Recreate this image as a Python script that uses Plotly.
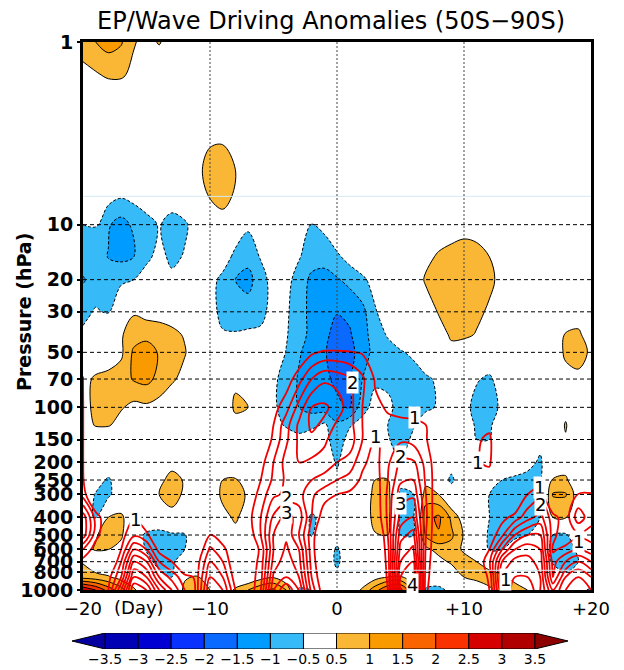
import math
import plotly.graph_objects as go

# ---------------- data ----------------
DAYS = list(range(-20, 21))
PRESSURE = [1, 1.5, 2, 3, 5, 7, 10, 15, 20, 30, 40, 50, 70, 100, 125, 150,
            200, 250, 300, 400, 500, 600, 700, 850, 1000]

# EP-flux / wave-driving anomaly (shaded), sparse "day:value" per level
ANOMALY_ROWS = {
    1: "-20:0.9 -19:1.0 -18:1.2 -17:1.05 -16:0.55 -15:0.3 -14:0.55 -13:0.2",
    1.5: "-20:0.25 -19:0.45 -18:0.6 -17:0.6 -16:0.35 -15:0.1",
    2: "-18:0.1 -17:0.1",
    3: "-10:0.25 -9:0.25",
    5: "-11:0.3 -10:0.8 -9:0.9 -8:0.5 -7:0.1",
    7: "-19:-0.1 -18:-0.3 -17:-0.45 -16:-0.35 -15:-0.1 -13:-0.15 -11:0.1 -10:0.55 -9:0.75 -8:0.4 -2:-0.2",
    10: "-20:-0.5 -19:-0.45 -18:-0.95 -17:-1.2 -16:-0.9 -15:-0.75 -14:-0.45 -13:-0.75 -12:-0.6 -11:-0.2 -9:0.2 -8:-0.1 -7:-0.4 -6:-0.1 -3:-0.3 -2:-0.52 -1:-0.35 9:0.2 10:0.3 11:0.25",
    15: "-20:-0.7 -19:-0.85 -18:-1.02 -17:-1.1 -16:-1.0 -15:-0.65 -14:-0.3 -13:-0.65 -12:-0.45 -9:-0.2 -8:-0.65 -7:-0.85 -6:-0.45 -5:-0.2 -4:-0.1 -3:-0.45 -2:-0.8 -1:-0.85 0:-0.6 1:-0.3 2:-0.1 7:0.3 8:0.6 9:0.7 10:0.75 11:0.7 12:0.5 13:0.1",
    20: "-20:-1.05 -19:-0.8 -18:-0.75 -17:-0.65 -16:-0.5 -15:-0.2 -13:-0.35 -10:-0.3 -9:-0.65 -8:-1.0 -7:-1.15 -6:-0.75 -5:-0.25 -4:-0.3 -3:-0.75 -2:-1.1 -1:-1.15 0:-1.05 1:-0.85 2:-0.6 3:-0.3 7:0.6 8:0.75 9:0.8 10:0.85 11:0.8 12:0.65 13:0.3",
    30: "-20:-0.65 -19:-0.45 -18:-0.55 -17:0.2 -16:0.45 -15:0.3 -14:0.25 -13:0.2 -10:-0.3 -9:-0.65 -8:-0.8 -7:-0.8 -6:-0.65 -5:-0.3 -4:-0.4 -3:-0.85 -2:-1.1 -1:-1.3 0:-1.48 1:-1.4 2:-1.15 3:-0.55 4:-0.2 7:0.1 8:0.55 9:0.75 10:0.8 11:0.65 12:0.4 19:0.2",
    40: "-20:-0.4 -18:0.1 -17:0.45 -16:0.75 -15:0.85 -14:0.8 -13:0.65 -12:0.45 -11:0.1 -10:-0.2 -9:-0.45 -8:-0.45 -7:-0.4 -6:-0.4 -5:-0.3 -4:-0.45 -3:-0.85 -2:-1.1 -1:-1.4 0:-1.65 1:-1.55 2:-1.2 3:-0.75 4:-0.45 5:-0.2 8:0.2 9:0.6 10:0.65 11:0.45 12:0.1 17:0.1 18:0.55 19:0.6 20:0.2",
    50: "-18:0.1 -17:0.4 -16:1.1 -15:1.25 -14:0.95 -13:0.7 -12:0.55 -11:0.1 -5:-0.15 -4:-0.52 -3:-0.95 -2:-1.2 -1:-1.45 0:-1.75 1:-1.7 2:-1.2 3:-0.85 4:-0.7 5:-0.55 6:-0.4 9:0.3 17:0.1 18:0.6 19:0.75 20:0.4",
    70: "-20:0.3 -19:0.6 -18:0.7 -17:0.75 -16:1.05 -15:1.15 -14:0.85 -13:0.6 -12:0.3 -8:0.4 -5:-0.4 -4:-0.7 -3:-1.05 -2:-1.25 -1:-1.4 0:-1.6 1:-1.55 2:-1.0 3:-0.6 4:-0.6 5:-0.7 6:-0.75 7:-0.6 8:-0.4 10:-0.1 11:-0.45 12:-0.6 13:-0.2 18:0.3 19:0.35",
    100: "-20:0.35 -19:0.6 -18:0.7 -17:0.55 -16:0.35 -15:0.4 -14:0.3 -9:0.1 -8:0.6 -7:0.5 -5:-0.4 -4:-0.75 -3:-1.0 -2:-1.15 -1:-1.25 0:-1.4 1:-1.55 2:-0.7 3:-0.3 4:-0.4 5:-0.65 6:-0.7 7:-0.6 8:-0.45 10:-0.3 11:-0.7 12:-0.8 13:-0.35 18:0.3",
    125: "-20:0.2 -19:0.55 -18:0.55 -17:0.3 -8:0.3 -5:-0.2 -4:-0.6 -3:-0.9 -2:-0.7 -1:-0.4 0:-0.9 1:-0.55 2:-0.3 3:-0.2 4:-0.5 5:-0.75 6:-0.55 7:-0.2 10:-0.1 11:-0.6 12:-0.6 13:-0.1 18:0.55",
    150: "-3:-0.2 -1:-0.3 0:-0.8 1:-0.3 4:-0.45 5:-0.75 6:-0.4 11:-0.5 12:-0.5 16:-0.3 18:0.45",
    200: "-13:0.3 0:-0.6 5:-0.55 9:-0.3 15:-0.3 16:-0.6 17:0.1 18:0.2",
    250: "-19:-0.2 -18:-0.6 -14:0.35 -13:0.7 -12:0.45 -9:0.5 -8:0.55 0:-0.35 3:0.5 4:0.52 5:-0.35 7:0.3 8:-0.1 9:-0.6 10:-0.1 12:-0.2 13:-0.5 14:-0.65 15:-0.7 16:-0.6 17:0.55 18:0.6",
    300: "-19:-0.55 -18:-0.65 -15:0.1 -14:0.5 -13:0.75 -12:0.4 -9:0.65 -8:0.8 -7:0.4 3:0.7 4:0.7 5:-0.6 6:-0.55 7:0.75 8:0.5 9:-0.2 12:-0.5 13:-0.7 14:-0.75 15:-1.02 16:-0.5 17:1.05 18:1.05 19:0.2",
    400: "-20:-0.3 -19:-0.55 -18:0.5 -17:0.6 -16:0.1 -13:0.3 -9:0.3 -8:0.6 -7:0.2 -2:-0.6 -1:-0.3 3:0.75 4:0.7 5:-0.65 6:-0.6 7:1.3 8:1.6 9:0.9 10:0.2 12:-0.5 13:-0.7 14:-0.7 15:-0.7 16:-0.5 17:0.5 18:0.55 19:-0.1",
    500: "-20:0.2 -19:0.45 -18:0.75 -17:0.6 -16:-0.2 -15:-0.6 -14:-0.7 -13:-0.6 -12:-0.55 -11:-0.1 -8:0.3 -2:-0.55 0:-0.2 3:0.45 4:0.5 5:-0.5 6:-0.55 7:1.1 8:1.45 9:1.1 10:0.45 12:-0.6 13:-0.75 14:-0.7 15:-0.5 16:-0.3 17:-0.5 18:-0.6",
    600: "-20:0.3 -19:0.55 -18:0.5 -17:0.3 -15:-0.55 -14:-0.75 -13:-0.7 -12:-0.5 -11:-0.1 0:-0.6 7:0.35 8:0.7 9:0.8 10:0.4 12:-0.55 13:-0.5 17:-0.7 18:-0.75 19:-0.4",
    700: "-20:0.45 -15:-0.3 -14:-0.7 -13:-0.6 -12:-0.2 0:-0.65 8:0.3 9:0.6 10:0.75 11:0.5 12:0.2 17:-0.6 18:-0.7 19:-0.5",
    850: "-20:0.8 -19:0.7 -18:0.55 -17:0.3 -14:-0.3 -13:-0.5 -12:0.45 -11:0.55 -6:0.3 -5:0.45 0:-0.3 3:0.3 4:0.5 5:0.55 10:0.5 11:0.7 12:0.75 13:0.6 14:0.3 18:-0.4",
    1000: "-20:3.0 -19:2.5 -18:1.8 -17:1.2 -16:0.6 -12:0.6 -11:0.8 -10:0.5 -8:0.6 -7:1.0 -6:1.4 -5:1.6 -4:1.0 -3:-0.6 -2:-0.5 2:0.6 3:1.3 4:2.0 5:2.2 6:1.0 7:-0.6 8:-0.7 9:-0.3 12:0.4 13:0.7 14:0.75 15:0.5 16:0.1 19:-0.3 20:-0.6",
}

# Red contour field (wave-driving composite), sparse "day:value" per level
WAVE_ROWS = {
    50: "-20:0.8 -3:0.5 -2:0.9 -1:1.1 0:1.1 1:1.05 2:0.95 3:0.6",
    70: "-20:1.02 -5:0.3 -4:0.7 -3:1.3 -2:2.0 -1:2.4 0:2.3 1:2.05 2:1.6 3:0.95 4:0.5",
    100: "-20:1.02 -6:0.3 -5:0.8 -4:1.3 -3:2.2 -2:3.0 -1:3.1 0:2.8 1:2.2 2:1.5 3:1.1 4:0.95 5:0.8 6:0.8 7:0.6 8:0.3",
    125: "-20:1.02 -6:0.4 -5:1.0 -4:1.8 -3:2.6 -2:3.1 -1:2.9 0:2.4 1:2.2 2:1.5 3:1.1 4:1.1 5:1.15 6:1.1 7:1.0 8:0.4 12:0.8",
    150: "-20:1.02 -6:0.5 -5:1.1 -4:1.9 -3:2.6 -2:2.9 -1:2.6 0:2.2 1:2.3 2:1.5 3:0.9 4:1.2 5:1.4 6:1.3 7:1.05 8:0.5 11:0.9 12:1.15",
    200: "-20:1.02 -7:0.3 -6:0.8 -5:1.5 -4:2.2 -3:2.5 -2:2.4 -1:2.3 0:2.0 1:1.8 2:1.1 3:0.8 4:1.4 5:2.1 6:2.1 7:1.3 8:0.6 11:0.95 12:1.1",
    250: "-20:1.05 -7:0.5 -6:1.0 -5:1.6 -4:2.1 -3:2.2 -2:2.0 -1:1.8 0:1.5 1:1.3 2:0.9 3:0.7 4:1.5 5:2.4 6:2.5 7:1.4 8:0.6 12:0.7 15:0.5 16:0.7",
    300: "-20:1.3 -8:0.2 -7:0.6 -6:1.2 -5:1.9 -4:2.1 -3:2.2 -2:1.6 -1:1.2 0:1.0 1:0.9 2:0.7 3:0.6 4:1.6 5:2.8 6:2.9 7:1.5 8:0.5 15:1.0 16:1.3 19:1.05 20:1.1",
    400: "-20:2.8 -19:1.3 -18:0.5 -17:0.5 -16:0.95 -15:0.6 -8:0.3 -7:0.8 -6:1.5 -5:2.6 -4:3.2 -3:2.8 -2:1.5 -1:0.7 0:0.4 3:0.5 4:1.6 5:3.2 6:3.5 7:1.6 8:0.4 13:0.8 14:1.2 15:1.8 16:2.2 17:1.2 18:0.7 19:1.8 20:1.2",
    500: "-20:2.8 -19:1.2 -18:0.5 -17:0.8 -16:1.4 -15:1.1 -14:0.5 -10:1.05 -9:0.6 -7:0.6 -6:1.5 -5:3.0 -4:3.4 -3:2.5 -2:1.2 -1:0.4 4:1.5 5:3.8 6:4.2 7:1.5 8:0.4 12:0.6 13:1.4 14:2.5 15:3.0 16:3.0 17:1.2 18:0.5 19:0.9 20:0.8",
    600: "-20:1.5 -19:0.7 -17:1.0 -16:2.5 -15:2.0 -14:0.8 -11:0.5 -10:1.6 -9:1.2 -8:0.4 -7:0.5 -6:1.1 -5:3.0 -4:3.6 -3:3.0 -2:1.2 -1:0.3 4:1.3 5:4.2 6:4.6 7:1.4 8:0.4 11:0.4 12:1.0 13:2.5 14:3.5 15:3.8 16:3.5 17:0.9 18:1.2 19:1.5 20:1.2",
    700: "-20:0.8 -17:1.5 -16:3.5 -15:3.0 -14:1.5 -13:1.0 -11:0.8 -10:2.0 -9:1.5 -8:0.5 -7:0.5 -6:1.2 -5:3.2 -4:3.8 -3:3.2 -2:1.3 -1:0.3 4:1.2 5:4.5 6:5.0 7:1.3 8:0.4 11:0.5 12:1.4 13:3.5 14:4.2 15:4.2 16:3.8 17:1.3 18:2.0 19:2.5 20:2.0",
    850: "-18:0.8 -17:2.0 -16:4.5 -15:4.0 -14:2.5 -13:1.8 -12:1.2 -11:0.9 -10:2.5 -9:2.0 -8:0.7 -7:0.6 -6:1.3 -5:3.6 -4:4.0 -3:3.5 -2:1.5 -1:0.4 4:1.1 5:5.0 6:5.5 7:1.2 8:0.4 11:0.5 12:1.1 13:4.0 14:4.5 15:4.5 16:4.0 17:1.5 18:3.0 19:3.5 20:3.0",
    1000: "-18:1.0 -17:3.0 -16:5.5 -15:5.0 -14:3.5 -13:2.5 -12:1.5 -11:0.9 -10:3.0 -9:2.5 -8:1.0 -7:0.5 -6:1.5 -5:4.0 -4:5.0 -3:4.0 -2:1.8 -1:0.6 4:1.0 5:5.0 6:6.0 7:1.1 8:0.4 11:0.5 12:1.0 13:3.5 14:5.0 15:5.0 16:4.0 17:2.5 18:3.5 19:4.0 20:3.5",
}

# labels on red contours: (day, hPa, text)
RED_LABELS = [(1.2, 73, "2"), (3.0, 145, "1"), (6.1, 114, "1"), (5.0, 187, "2"),
              (5.0, 334, "3"), (5.95, 938, "4"), (-4.0, 313, "2"), (-4.0, 378, "3"),
              (-15.9, 413, "1"), (11.1, 201, "1"), (15.95, 276, "1"), (16.05, 342, "2"),
              (19.0, 545, "1"), (13.3, 880, "1")]

Y_TICKS = [1, 10, 20, 30, 50, 70, 100, 150, 200, 250, 300, 400, 500, 600, 700, 800, 1000]
GRID_LEVELS = [10, 20, 30, 50, 70, 100, 150, 200, 250, 300, 400, 500, 600, 700, 800]
FAINT_LEVELS = [7, 780]
X_TICKS = [-20, -10, 0, 10, 20]
X_TICK_TEXT = ["\u221220", "\u221210", "0", "+10", "+20"]
DAY_GRID = [-10, 0, 10]

CB_LABELS = ["\u22123.5", "\u22123", "\u22122.5", "\u22122", "\u22121.5", "\u22121", "\u22120.5",
             "0.5", "1", "1.5", "2", "2.5", "3", "3.5"]
# band colours: <-3.5, -3.5..-3, ..., -0.5..0, 0..0.5, ..., >3.5
BAND_COLORS = ["#0500a0", "#0000b4", "#0000d2", "#0a32ff", "#0a69ff", "#009bff", "#37bbf8",
               "#ffffff", "#ffffff", "#f9b735", "#f99a00", "#fa6400", "#fa3200", "#d60000",
               "#b00000", "#8c0000"]


def to_grid(rows):
    z = [[0.0] * len(DAYS) for _ in PRESSURE]
    for j, p in enumerate(PRESSURE):
        for tok in rows.get(p, "").split():
            d, v = tok.split(":")
            z[j][DAYS.index(int(d))] = float(v)
    return z


anom = to_grid(ANOMALY_ROWS)
wave = to_grid(WAVE_ROWS)

n = len(BAND_COLORS)
scale = []
for k, c in enumerate(BAND_COLORS):
    scale.append([max(0.0, (k - 0.5) / (n - 1)), c])
    scale.append([min(1.0, (k + 0.5) / (n - 1)), c])

FONT = "DejaVu Sans"
fig = go.Figure()

fig.add_trace(go.Contour(
    x=DAYS, y=PRESSURE, z=anom, colorscale=scale, showscale=False, autocontour=False,
    contours=dict(start=-3.5, end=3.5, size=0.5, coloring="fill", showlines=False),
    line=dict(width=0, smoothing=1), hoverinfo="skip"))
fig.add_trace(go.Contour(
    x=DAYS, y=PRESSURE, z=anom, showscale=False, autocontour=False,
    contours=dict(start=-3.5, end=-0.5, size=0.5, coloring="none"),
    line=dict(color="black", width=1, dash="3px,2px", smoothing=1), hoverinfo="skip"))
fig.add_trace(go.Contour(
    x=DAYS, y=PRESSURE, z=anom, showscale=False, autocontour=False,
    contours=dict(start=0.5, end=3.5, size=0.5, coloring="none"),
    line=dict(color="black", width=1, smoothing=1), hoverinfo="skip"))

for p in FAINT_LEVELS:
    fig.add_trace(go.Scatter(x=[DAYS[0], DAYS[-1]], y=[p, p], mode="lines",
                             line=dict(color="#d4ebf3", width=1), hoverinfo="skip"))
for p in GRID_LEVELS:
    fig.add_trace(go.Scatter(x=[DAYS[0], DAYS[-1]], y=[p, p], mode="lines",
                             line=dict(color="black", width=1, dash="4px,3px"), hoverinfo="skip"))
for d in DAY_GRID:
    fig.add_trace(go.Scatter(x=[d, d], y=[PRESSURE[0], PRESSURE[-1]], mode="lines",
                             line=dict(color="#444444", width=1, dash="2px,2px"), hoverinfo="skip"))

fig.add_trace(go.Contour(
    x=DAYS, y=PRESSURE, z=wave, showscale=False, autocontour=False,
    contours=dict(start=1, end=6, size=0.5, coloring="none"),
    line=dict(color="#f00000", width=1.8, smoothing=1), hoverinfo="skip"))

# colour bar drawn as its own small subplot
nb = len(CB_LABELS) - 1
box_colors = [BAND_COLORS[i + 1] if i < 7 else BAND_COLORS[i + 2] for i in range(nb)]
fig.add_trace(go.Bar(x=[i + 0.5 for i in range(nb)], y=[1] * nb, width=1, base=0,
                     marker=dict(color=box_colors, line=dict(color="black", width=1)),
                     xaxis="x2", yaxis="y2", hoverinfo="skip"))
fig.add_trace(go.Scatter(x=[0, -1, 0, 0], y=[0, 0.5, 1, 0], fill="toself", mode="lines",
                         fillcolor=BAND_COLORS[0], line=dict(color="black", width=1),
                         xaxis="x2", yaxis="y2", hoverinfo="skip"))
fig.add_trace(go.Scatter(x=[nb, nb + 1, nb, nb], y=[0, 0.5, 1, 0], fill="toself", mode="lines",
                         fillcolor=BAND_COLORS[-1], line=dict(color="black", width=1),
                         xaxis="x2", yaxis="y2", hoverinfo="skip"))

# page body adds an 8px offset; figure fills the rest of the 624x670 window
OFF = 8
W, H = 624 - OFF, 670 - OFF


def px(x):
    return (x - OFF) / W


def py(y):
    return 1 - (y - OFF) / H


annotations = [
    dict(text="EP/Wave Driving Anomalies (50S\u221290S)", xref="paper", yref="paper",
         x=px(331), y=py(21), xanchor="center", yanchor="middle", showarrow=False,
         font=dict(family=FONT, size=24, color="black")),
    dict(text="Pressure (hPa)", xref="paper", yref="paper", x=px(24), y=py(312),
         xanchor="center", yanchor="middle", textangle=-90, showarrow=False,
         font=dict(family=FONT, size=19, color="black", weight="bold")),
    dict(text="(Day)", xref="x", yref="paper", x=-17.7, y=py(607), xanchor="left",
         yanchor="middle", showarrow=False, font=dict(family=FONT, size=18, color="black")),
]
for d, p, t in RED_LABELS:
    annotations.append(dict(text=t, xref="x", yref="y", x=d, y=math.log10(p), showarrow=False,
                            bgcolor="white", borderpad=0, xanchor="center", yanchor="middle",
                            font=dict(family=FONT, size=18, color="black")))

fig.update_layout(
    width=W, height=H, margin=dict(l=0, r=0, t=0, b=0, autoexpand=False),
    paper_bgcolor="white", plot_bgcolor="white", showlegend=False,
    annotations=annotations,
    xaxis=dict(domain=[px(83), px(591)], range=[-20, 20], tickvals=X_TICKS, ticktext=X_TICK_TEXT,
               showgrid=False, zeroline=False, showline=True, mirror=True, linewidth=3,
               linecolor="black", ticks="", automargin=False,
               tickfont=dict(family=FONT, size=18, color="black")),
    yaxis=dict(domain=[py(590), py(42)], type="log", range=[3, 0], tickvals=Y_TICKS,
               ticktext=[str(v) for v in Y_TICKS], showgrid=False, zeroline=False, showline=True,
               mirror=True, linewidth=3, linecolor="black", ticks="outside", ticklen=3,
               tickwidth=2, tickcolor="black", automargin=False,
               tickfont=dict(family=FONT, size=19, color="black", weight="bold")),
    xaxis2=dict(domain=[px(72), px(568)], range=[-1, nb + 1], anchor="y2",
                tickvals=list(range(len(CB_LABELS))), ticktext=CB_LABELS, showgrid=False,
                zeroline=False, showline=False, ticks="", automargin=False,
                tickfont=dict(family=FONT, size=14, color="black")),
    yaxis2=dict(domain=[py(649), py(633)], range=[0, 1], anchor="x2", visible=False,
                automargin=False),
)

fig.write_html("out.html")
